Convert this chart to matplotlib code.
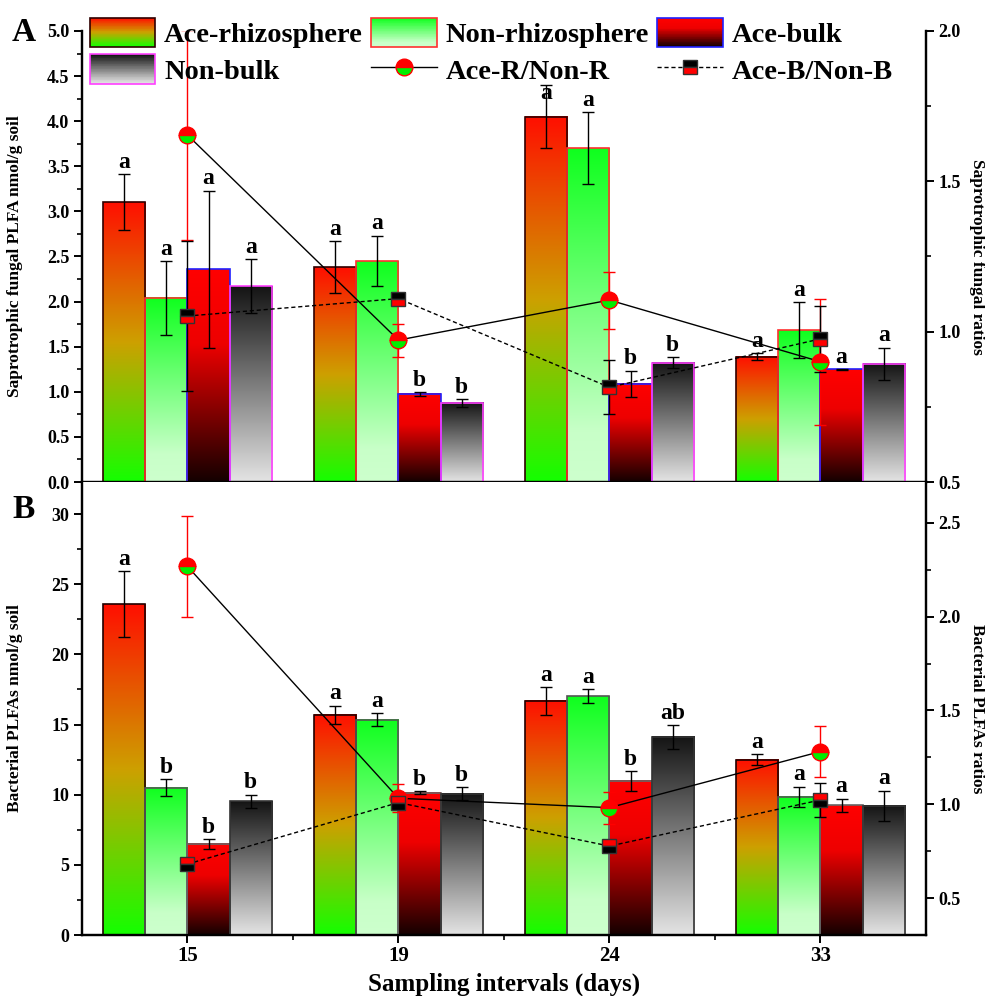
import numpy as np
import matplotlib
matplotlib.use("Agg")
import matplotlib.pyplot as plt
from matplotlib.patches import Rectangle
from matplotlib.lines import Line2D
from matplotlib.legend_handler import HandlerBase
from matplotlib.ticker import MultipleLocator, FixedLocator

plt.rcParams['font.family'] = ['Liberation Serif', 'DejaVu Serif']
plt.rcParams['font.weight'] = 'bold'
plt.rcParams['axes.labelweight'] = 'bold'

days = ['15', '19', '24', '33']
names = ['Ace-rhizosphere', 'Non-rhizosphere', 'Ace-bulk', 'Non-bulk']

# panel A: saprotrophic fungal PLFA (nmol/g soil)
fung_ace_r = [3.10, 2.38, 4.05, 1.39]
fung_ace_r_err = [0.31, 0.29, 0.35, 0.04]
fung_ace_r_sig = ['a', 'a', 'a', 'a']
fung_non_r = [2.04, 2.45, 3.70, 1.685]
fung_non_r_err = [0.41, 0.28, 0.40, 0.31]
fung_non_r_sig = ['a', 'a', 'a', 'a']
fung_ace_b = [2.36, 0.976, 1.087, 1.249]
fung_ace_b_err = [0.87, 0.02, 0.145, 0.005]
fung_ace_b_sig = ['a', 'b', 'b', 'a']
fung_non_b = [2.17, 0.876, 1.323, 1.31]
fung_non_b_err = [0.30, 0.04, 0.06, 0.18]
fung_non_b_sig = ['a', 'b', 'b', 'a']
fung_ratio_r = [1.654, 0.972, 1.105, 0.900]
fung_ratio_r_err = [0.35, 0.055, 0.095, 0.21]
fung_ratio_b = [1.052, 1.110, 0.815, 0.976]
fung_ratio_b_err = [0.25, 0.02, 0.09, 0.11]

# panel B: bacterial PLFAs (nmol/g soil)
bact_ace_r = [23.57, 15.68, 16.68, 12.5]
bact_ace_r_err = [2.35, 0.67, 1.0, 0.38]
bact_ace_r_sig = ['a', 'a', 'a', 'a']
bact_non_r = [10.51, 15.35, 17.03, 9.84]
bact_non_r_err = [0.6, 0.45, 0.5, 0.72]
bact_non_r_sig = ['b', 'a', 'a', 'a']
bact_ace_b = [6.49, 10.15, 10.98, 9.25]
bact_ace_b_err = [0.35, 0.1, 0.7, 0.45]
bact_ace_b_sig = ['b', 'b', 'b', 'a']
bact_non_b = [9.53, 10.08, 14.11, 9.22]
bact_non_b_err = [0.47, 0.45, 0.85, 1.07]
bact_non_b_sig = ['b', 'b', 'ab', 'a']
bact_ratio_r = [2.268, 1.032, 0.982, 1.281]
bact_ratio_r_err = [0.27, 0.075, 0.085, 0.135]
bact_ratio_b = [0.681, 1.009, 0.777, 1.023]
bact_ratio_b_err = [0.02, 0.03, 0.02, 0.089]

# gradient stops (top -> bottom)
grad_ace_r = [(0.0, (255, 15, 0)), (0.5, (205, 160, 0)), (1.0, (20, 255, 0))]
grad_non_r = [(0.0, (15, 255, 30)), (0.85, (200, 255, 200)), (1.0, (205, 255, 205))]
grad_ace_b = [(0.0, (255, 0, 0)), (0.35, (238, 0, 0)), (1.0, (20, 0, 0))]
grad_non_b = [(0.0, (20, 20, 20)), (1.0, (228, 228, 228))]
grads = [grad_ace_r, grad_non_r, grad_ace_b, grad_non_b]
edges_a = ['#300000', '#ff3030', '#2020ff', '#ff40ff']
edges_b = ['#200000', '#555555', '#666666', '#333333']
green = '#00ee00'


def grad_colors(stops, n=256):
    t = np.linspace(0, 1, n)
    pos = [s[0] for s in stops]
    cols = np.zeros((n, 3))
    for k in range(3):
        cols[:, k] = np.interp(t, pos, [s[1][k] for s in stops]) / 255.0
    return cols


class GradHandle:
    def __init__(self, stops, edge):
        self.stops = stops
        self.edge = edge


class HandlerGrad(HandlerBase):
    def create_artists(self, legend, orig_handle, xd, yd, w, h, fontsize, trans):
        n = 40
        cols = grad_colors(orig_handle.stops, n)
        arts = []
        for i in range(n):
            y = -yd + h * (1 - (i + 1) / n)
            arts.append(Rectangle((-xd, y), w, h / n + 0.3, facecolor=cols[i],
                                  edgecolor='none', transform=trans))
        arts.append(Rectangle((-xd, -yd), w, h, facecolor='none',
                              edgecolor=orig_handle.edge, lw=1.2, transform=trans))
        return arts


def grad_bar(ax, x, h, w, stops, edge):
    img = grad_colors(stops).reshape(-1, 1, 3)
    ax.imshow(img, extent=[x - w / 2, x + w / 2, 0, h], origin='upper',
              aspect='auto', interpolation='bilinear', zorder=2)
    ax.bar(x, h, w, fill=False, edgecolor=edge, linewidth=1.2, zorder=3)


def panel(ax, ax2, series, errs, sigs, ratio_r, ratio_r_err, ratio_b, ratio_b_err,
          edges, sq_top, sq_bot, ymax, label_cap):
    x = np.arange(len(days))
    w = 0.2
    offs = [-0.3, -0.1, 0.1, 0.3]
    for s, (vals, ev, sg) in enumerate(zip(series, errs, sigs)):
        for i in range(len(days)):
            grad_bar(ax, x[i] + offs[s], vals[i], w, grads[s], edges[s])
        ax.errorbar(x + offs[s], vals, yerr=ev, fmt='none', ecolor='black',
                    elinewidth=1.0, capsize=4, capthick=1.0, zorder=4)
        for i in range(len(days)):
            ytxt = min(vals[i] + ev[i], label_cap * ymax)
            ax.annotate(sg[i], (x[i] + offs[s], ytxt), xytext=(0, 1),
                        textcoords='offset points', ha='center', va='bottom',
                        fontsize=17, fontweight='bold', zorder=5)
    ax2.errorbar(x, ratio_r, yerr=ratio_r_err, fmt='none', ecolor='red',
                 elinewidth=1.0, capsize=4, capthick=1.0, zorder=3)
    ax2.errorbar(x, ratio_b, yerr=ratio_b_err, fmt='none', ecolor='black',
                 elinewidth=1.0, capsize=4, capthick=1.0, zorder=3)
    ax2.plot(x, ratio_r, color='black', lw=1.0, marker='o', ms=12, fillstyle='top',
             mfc='red', mfcalt=green, mec='red', mew=1.0, zorder=4)
    ax2.plot(x, ratio_b, color='black', lw=1.0, ls=(0, (3, 2)), marker='s', ms=10,
             fillstyle='top', mfc=sq_top, mfcalt=sq_bot, mec='#333333', mew=1.0, zorder=4)
    ax.set_xlim(-0.5, 3.5)
    ax.xaxis.set_major_locator(FixedLocator(x))
    ax.xaxis.set_minor_locator(FixedLocator([0.5, 1.5, 2.5]))
    ax.set_xticklabels(days)
    for a in (ax, ax2):
        a.spines['top'].set_visible(False)
        for sp in ('left', 'right', 'bottom'):
            a.spines[sp].set_linewidth(1.6)
        a.tick_params(which='major', direction='out', length=6, width=1.4,
                      labelsize=13, pad=3)
        a.tick_params(which='minor', direction='out', length=3.5, width=1.2)
    ax.tick_params(axis='x', which='major', labelsize=15, pad=2)


fig = plt.figure(figsize=(9.85, 9.96), dpi=100)
axA = fig.add_axes([0.0832, 0.51606, 0.8569, 0.45282])
axA2 = axA.twinx()
axB = fig.add_axes([0.0832, 0.06124, 0.8569, 0.45482])
axB2 = axB.twinx()

panel(axA, axA2,
      [fung_ace_r, fung_non_r, fung_ace_b, fung_non_b],
      [fung_ace_r_err, fung_non_r_err, fung_ace_b_err, fung_non_b_err],
      [fung_ace_r_sig, fung_non_r_sig, fung_ace_b_sig, fung_non_b_sig],
      fung_ratio_r, fung_ratio_r_err, fung_ratio_b, fung_ratio_b_err,
      edges_a, 'black', 'red', 5.0, 0.835)
panel(axB, axB2,
      [bact_ace_r, bact_non_r, bact_ace_b, bact_non_b],
      [bact_ace_r_err, bact_non_r_err, bact_ace_b_err, bact_non_b_err],
      [bact_ace_r_sig, bact_non_r_sig, bact_ace_b_sig, bact_non_b_sig],
      bact_ratio_r, bact_ratio_r_err, bact_ratio_b, bact_ratio_b_err,
      edges_b, 'red', 'black', 32.28, 1.0)

axA.set_ylim(0, 5.0)
axA.yaxis.set_major_locator(MultipleLocator(0.5))
axA.yaxis.set_minor_locator(MultipleLocator(0.25))
axA.yaxis.set_major_formatter(plt.FormatStrFormatter('%.1f'))
axA2.set_ylim(0.5, 2.0)
axA2.yaxis.set_major_locator(MultipleLocator(0.5))
axA2.yaxis.set_minor_locator(MultipleLocator(0.25))
axA2.yaxis.set_major_formatter(plt.FormatStrFormatter('%.1f'))
axA.tick_params(axis='x', labelbottom=False)

axB.set_ylim(0, 32.28)
axB.yaxis.set_major_locator(MultipleLocator(5))
axB.yaxis.set_minor_locator(MultipleLocator(2.5))
axB2.set_ylim(0.303, 2.718)
axB2.yaxis.set_major_locator(MultipleLocator(0.5))
axB2.yaxis.set_minor_locator(MultipleLocator(0.25))
axB2.yaxis.set_major_formatter(plt.FormatStrFormatter('%.1f'))

axA.set_ylabel('Saprotrophic fungal PLFA nmol/g soil', fontsize=12.5)
axA.yaxis.set_label_coords(-0.07, 0.5)
axA2.set_ylabel('Saprotrophic fungal ratios', fontsize=12.5, rotation=270, va='center')
axA2.yaxis.set_label_coords(1.061, 0.5)
axB.set_ylabel('Bacterial PLFAs nmol/g soil', fontsize=12.5)
axB.yaxis.set_label_coords(-0.07, 0.5)
axB2.set_ylabel('Bacterial PLFAs ratios', fontsize=12.5, rotation=270, va='center')
axB2.yaxis.set_label_coords(1.061, 0.5)
axB.set_xlabel('Sampling intervals (days)', fontsize=18)
axB.xaxis.set_label_coords(0.5, -0.083)

fig.text(12 / 985, 1 - 41 / 996, 'A', fontsize=24, fontweight='bold', va='baseline')
fig.text(12 / 985, 1 - 518 / 996, 'B', fontsize=24, fontweight='bold', va='baseline')

# legend
h_ace_r = GradHandle(grad_ace_r, '#300000')
h_non_r = GradHandle(grad_non_r, '#ff3030')
h_ace_b = GradHandle(grad_ace_b, '#2020ff')
h_non_b = GradHandle(grad_non_b, '#ff40ff')
h_rr = Line2D([], [], color='black', lw=1.0, marker='o', ms=12, fillstyle='top',
              mfc='red', mfcalt=green, mec='red')
h_rb = Line2D([], [], color='black', lw=1.0, ls=(0, (3, 2)), marker='s', ms=10,
              fillstyle='top', mfc='black', mfcalt='red', mec='#333333')
handles = [h_ace_r, h_non_b, h_non_r, h_rr, h_ace_b, h_rb]
labels = ['Ace-rhizosphere', 'Non-bulk', 'Non-rhizosphere', 'Ace-R/Non-R',
          'Ace-bulk', 'Ace-B/Non-B']
leg = axA2.legend(handles, labels, ncol=3, loc='upper left',
                  bbox_to_anchor=(90 / 985, 1 - 18 / 996), bbox_transform=fig.transFigure,
                  frameon=False, borderpad=0, borderaxespad=0,
                  handlelength=2.3, handleheight=1.2, handletextpad=0.3,
                  labelspacing=0.22, columnspacing=0.3, numpoints=1,
                  handler_map={GradHandle: HandlerGrad()},
                  prop={'weight': 'bold', 'size': 20.5})

fig.savefig('out.png', dpi=100)
